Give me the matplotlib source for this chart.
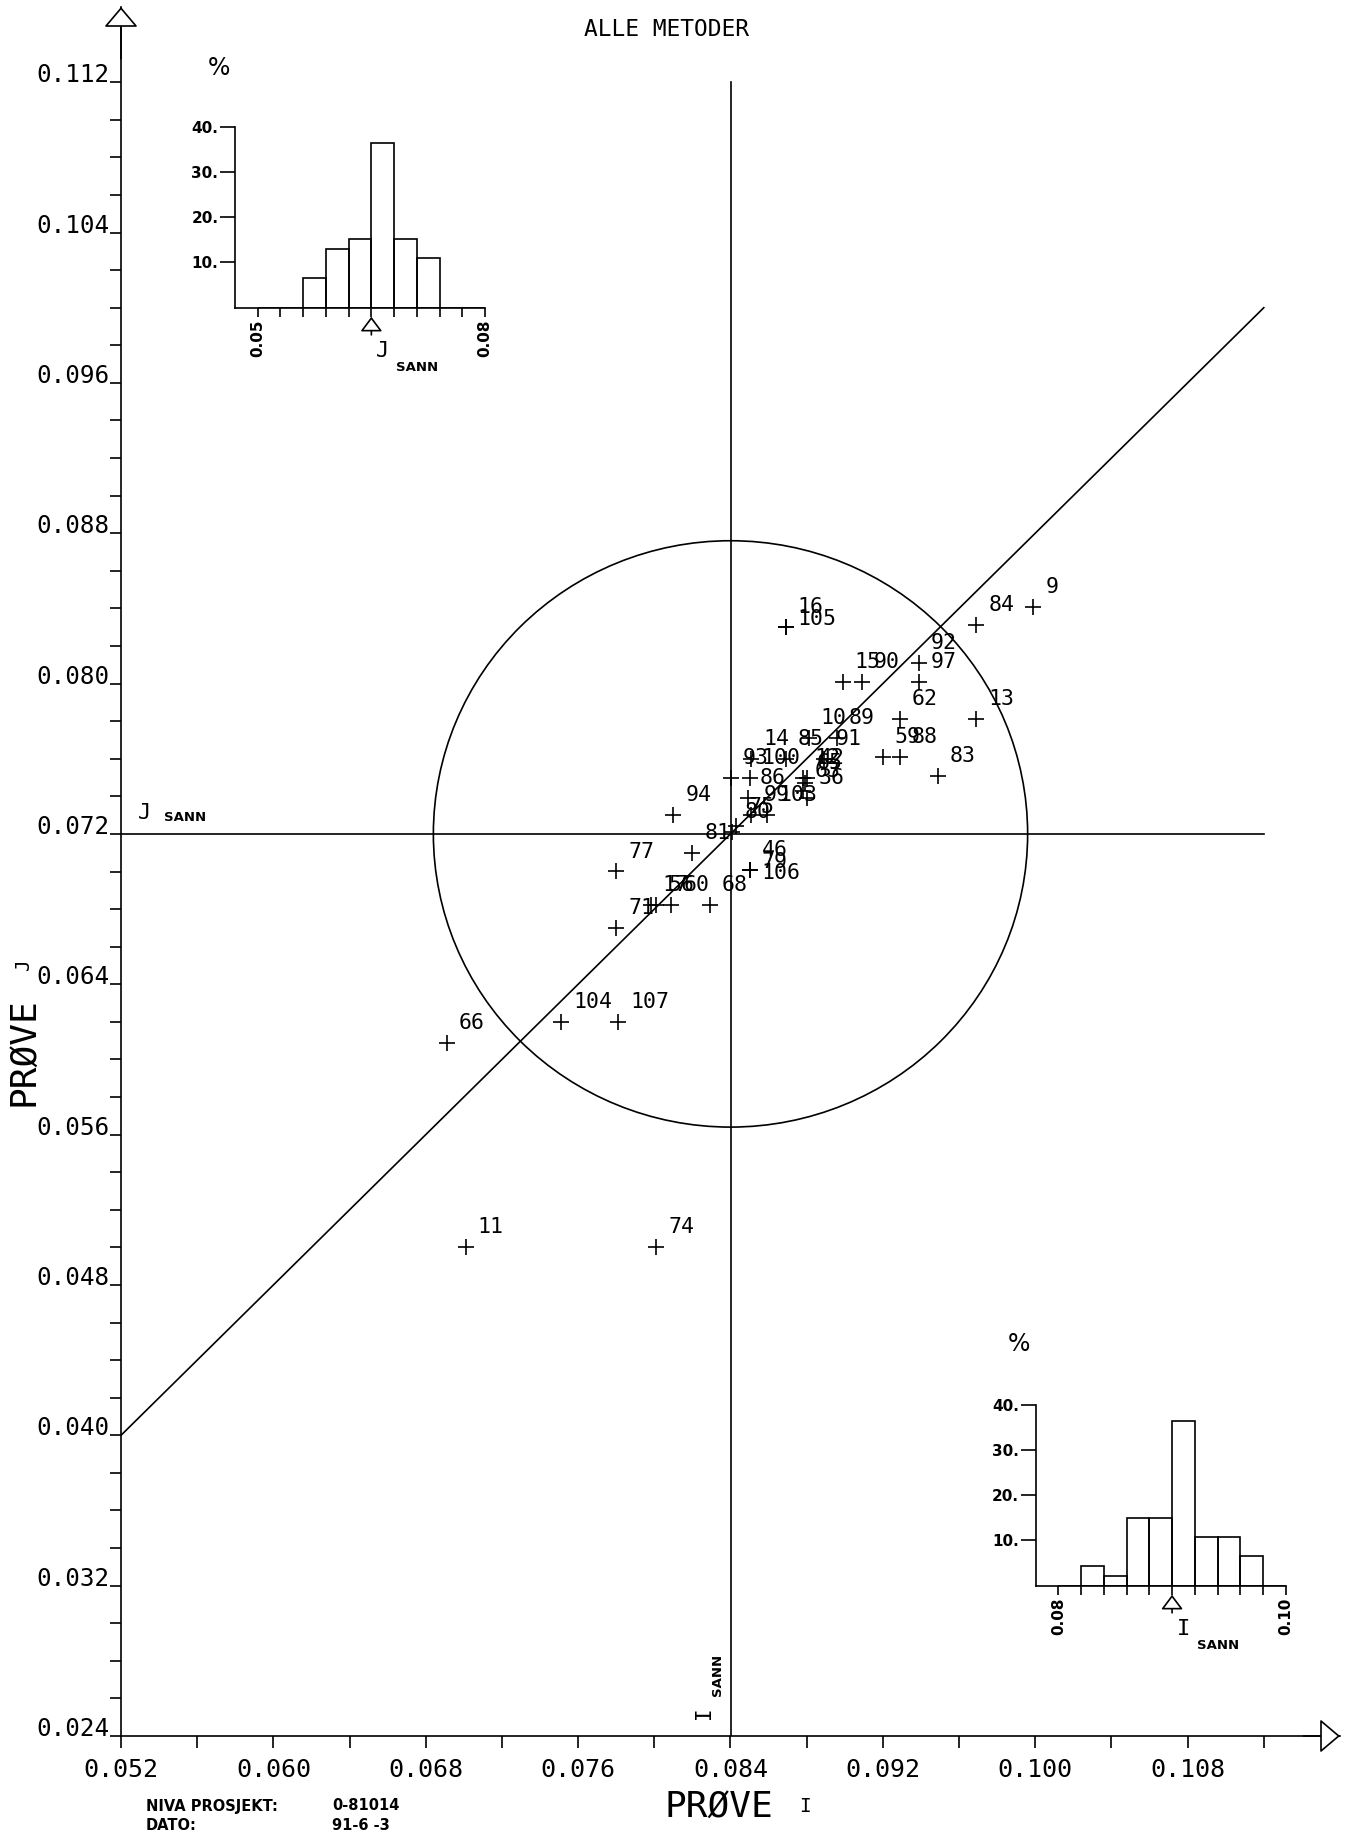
import numpy as np
import matplotlib
matplotlib.use("Agg")
import matplotlib.pyplot as plt
from matplotlib.patches import Circle

# lab number and results for sample I and sample J
lab_ids = [16, 105, 84, 9, 92, 97, 15, 90, 62, 13, 59, 88, 83, 10, 89, 14, 85, 91,
           93, 100, 12, 42, 65, 63, 36, 86, 99, 103, 75, 80, 81, 94, 77, 46, 79, 106,
           17, 56, 60, 68, 71, 66, 104, 107, 11, 74]
prove_i = [0.0869, 0.0869, 0.0969, 0.0999, 0.0939, 0.0939, 0.0899, 0.0909, 0.0929,
           0.0969, 0.0920, 0.0929, 0.0949, 0.0881, 0.0896, 0.0851, 0.0869, 0.0889,
           0.0840, 0.0850, 0.0878, 0.0880, 0.0879, 0.0878, 0.0880, 0.0849, 0.0851,
           0.0859, 0.0843, 0.0841, 0.0820, 0.0810, 0.0780, 0.0850, 0.0850, 0.0850,
           0.0798, 0.0801, 0.0809, 0.0829, 0.0780, 0.0691, 0.0751, 0.0781, 0.0701,
           0.0801]
prove_j = [0.0830, 0.0830, 0.0831, 0.0841, 0.0811, 0.0801, 0.0801, 0.0801, 0.0781,
           0.0781, 0.0761, 0.0761, 0.0751, 0.0771, 0.0771, 0.0760, 0.0760, 0.0760,
           0.0750, 0.0750, 0.0750, 0.0750, 0.0747, 0.0743, 0.0739, 0.0739, 0.0730,
           0.0730, 0.0724, 0.0721, 0.0710, 0.0730, 0.0700, 0.0701, 0.0701, 0.0701,
           0.0682, 0.0682, 0.0682, 0.0682, 0.0670, 0.0609, 0.0620, 0.0620, 0.0500,
           0.0500]

i_sann = 0.084
j_sann = 0.072

# histograms, percent of labs in each of the 10 bins
hist_j_pct = [0, 0, 6.5, 13.0, 15.1, 36.3, 15.1, 11.0, 0, 0]
hist_j_ends = ["0.05", "0.08"]
hist_i_pct = [0, 4.4, 2.2, 15.0, 15.0, 36.4, 10.7, 10.7, 6.6, 0]
hist_i_ends = ["0.08", "0.10"]

x_ticks = np.arange(0.052, 0.1081, 0.008)
y_ticks = np.arange(0.024, 0.1121, 0.008)

MONO = "DejaVu Sans Mono"
W, H = 1353, 1838
fig = plt.figure(figsize=(W / 100, H / 100), dpi=100)


def fx(px):
    return px / W


def fy(py):
    return 1 - py / H


ax = fig.add_axes([fx(121), fy(1736), (1340 - 121) / W, (1736 - 7) / H])
ax.set_xlim(0.052, 0.116)
ax.set_ylim(0.024, 0.116)
for s in ["top", "right"]:
    ax.spines[s].set_visible(False)
for s in ["left", "bottom"]:
    ax.spines[s].set_linewidth(1.2)

ax.set_xticks(x_ticks)
ax.set_xticklabels([f"{v:.3f}" for v in x_ticks], fontfamily=MONO, fontsize=18)
ax.set_xticks(np.arange(0.056, 0.1121, 0.008), minor=True)
ax.tick_params(axis="x", which="both", direction="out", length=8.5, width=1.2, pad=7)

ax.set_yticks(y_ticks)
ax.set_yticklabels([f"{v:.3f}" for v in y_ticks], fontfamily=MONO, fontsize=17.5)
y_minor = [v for v in np.arange(0.026, 0.1121, 0.002) if min(abs(v - y_ticks)) > 1e-6]
ax.set_yticks(y_minor, minor=True)
ax.tick_params(axis="y", which="both", direction="out", length=8, width=1.2, pad=0)
for lbl in ax.get_yticklabels():
    lbl.set_verticalalignment("baseline")

# open arrow heads at the axis ends
arrow_kw = dict(arrowstyle="-|>,head_length=0.85,head_width=0.72", fc="white",
                ec="black", lw=1.2, mutation_scale=15, shrinkA=0, shrinkB=0)
ax.annotate("", xy=(1, 0), xytext=(0.97, 0), xycoords="axes fraction",
            arrowprops=arrow_kw, annotation_clip=False)
ax.annotate("", xy=(0, 1), xytext=(0, 0.97), xycoords="axes fraction",
            arrowprops=arrow_kw, annotation_clip=False)

# true value cross, 45 degree line and 20 % circle
line_end = 0.112
ax.plot([0.052, line_end], [j_sann, j_sann], color="k", lw=1.2)
ax.plot([i_sann, i_sann], [0.024, line_end], color="k", lw=1.2)
diag_x = np.array([0.052, line_end])
ax.plot(diag_x, diag_x - i_sann + j_sann, color="k", lw=1.2)
ax.add_patch(Circle((i_sann, j_sann), 0.2 * (i_sann + j_sann) / 2,
                    fill=False, ec="k", lw=1.2))

ax.plot(prove_i, prove_j, "+", color="k", ms=12, mew=1.2)
for k, (lab, x, y) in enumerate(zip(lab_ids, prove_i, prove_j)):
    # labels of points at the same spot are stacked downwards
    n_same = sum(1 for x2, y2 in zip(prove_i[:k], prove_j[:k])
                 if abs(x2 - x) < 1e-4 and abs(y2 - y) < 1e-4)
    ax.annotate(str(lab), (x, y), xytext=(8.6, 10 - 8.5 * n_same),
                textcoords="offset points", fontfamily=MONO, fontsize=15.5,
                ha="left", va="baseline")

# J SANN / I SANN markers
ax.annotate("J", (0, j_sann), xycoords=ax.get_yaxis_transform(), xytext=(17, 10.5),
            textcoords="offset points", fontfamily=MONO, fontsize=16, ha="center",
            va="baseline")
ax.annotate("SANN", (0, j_sann), xycoords=ax.get_yaxis_transform(), xytext=(31, 9),
            textcoords="offset points", fontsize=9.5, fontweight="bold", ha="left",
            va="baseline")
ax.annotate("I", (i_sann, 0), xycoords=ax.get_xaxis_transform(), xytext=(-19, 16.5),
            textcoords="offset points", fontfamily=MONO, fontsize=15, rotation=90,
            ha="center", va="center")
ax.annotate("SANN", (i_sann, 0), xycoords=ax.get_xaxis_transform(), xytext=(-9.5, 44),
            textcoords="offset points", fontsize=9.5, fontweight="bold", rotation=90,
            ha="center", va="center")

# titles and axis names
fig.text(fx(666), fy(29), "ALLE METODER", fontfamily=MONO, fontsize=16.5,
         ha="center", va="center")
fig.text(fx(719), fy(1807), "PRØVE", fontfamily=MONO, fontsize=26, ha="center",
         va="center")
fig.text(fx(805), fy(1806), "I", fontfamily=MONO, fontsize=14, ha="center",
         va="center")
fig.text(fx(23), fy(1052), "PRØVE", fontfamily=MONO, fontsize=26, rotation=90,
         ha="center", va="center")
fig.text(fx(23), fy(964), "J", fontfamily=MONO, fontsize=14, rotation=90,
         ha="center", va="center")

fig.text(fx(146), fy(1806), "NIVA PROSJEKT:", fontsize=10.5, fontweight="bold",
         ha="left", va="center")
fig.text(fx(332), fy(1806), "0-81014", fontsize=10.5, fontweight="bold",
         ha="left", va="center")
fig.text(fx(146), fy(1825), "DATO:", fontsize=10.5, fontweight="bold",
         ha="left", va="center")
fig.text(fx(332), fy(1825), "91-6 -3", fontsize=10.5, fontweight="bold",
         ha="left", va="center")


def draw_hist(left, base, pct, ends, letter, pct_pos):
    h = fig.add_axes([fx(left), fy(base), 250 / W, 181 / H])
    h.bar(np.arange(len(pct)), pct, width=1, align="edge", fill=False,
          ec="k", lw=1.2)
    h.set_xlim(-1, 10)
    h.set_ylim(0, 40)
    for s in ["top", "right"]:
        h.spines[s].set_visible(False)
    for s in ["left", "bottom"]:
        h.spines[s].set_linewidth(1.2)
    h.set_yticks([10, 20, 30, 40])
    h.set_yticklabels(["10.", "20.", "30.", "40."], fontsize=11, fontweight="bold")
    h.tick_params(axis="y", length=11, width=1.2, pad=1)
    h.set_xticks(range(11))
    h.set_xticklabels([ends[0]] + [""] * 9 + [ends[1]], rotation=90, fontsize=11,
                      fontweight="bold")
    h.tick_params(axis="x", length=6.5, width=1.2, pad=2)
    h.patch.set_alpha(0)
    tr = h.get_xaxis_transform()
    h.annotate("", xy=(5, -0.05), xytext=(5, -0.15), xycoords=tr,
               arrowprops=dict(arrowstyle="-|>,head_length=0.6,head_width=0.45",
                               fc="white", ec="k", lw=1.2, mutation_scale=15,
                               shrinkA=0, shrinkB=0),
               annotation_clip=False)
    h.text(5.5, -0.24, letter, transform=tr, fontfamily=MONO, fontsize=16,
           ha="center", va="center")
    h.text(6.1, -0.33, "SANN", transform=tr, fontsize=9.5, fontweight="bold",
           ha="left", va="center")
    fig.text(fx(pct_pos[0]), fy(pct_pos[1]), "%", fontsize=17, ha="center",
             va="center")


draw_hist(235, 307.7, hist_j_pct, hist_j_ends, "J", (219, 68))
draw_hist(1035.7, 1585.7, hist_i_pct, hist_i_ends, "I", (1019, 1344))

fig.savefig("out.png", dpi=100, facecolor="white")
